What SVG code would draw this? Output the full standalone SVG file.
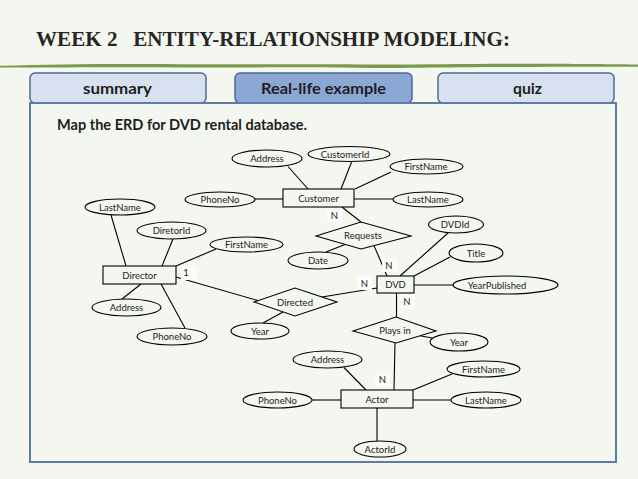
<svg xmlns="http://www.w3.org/2000/svg" width="638" height="479" viewBox="0 0 638 479">
<style>
.bg{fill:#f4f7ef}
.sh{fill:#f4f7ef;stroke:#000;stroke-width:1.1}
.ln{stroke:#000;stroke-width:1.1;fill:none}
.t{font-family:Lato,"Open Sans",sans-serif;font-size:9.5px;fill:#222;text-anchor:middle}
.lb{fill:#fbfcf9}
.tab{stroke:#4b6b98;stroke-width:1.5}
.tt{font-family:Lato,"Open Sans",sans-serif;font-weight:bold;font-size:16px;fill:#1e1e1e;text-anchor:middle}
</style>
<rect class="bg" x="0" y="0" width="638" height="479"/>
<g id="header">
<text x="36" y="46" font-family="'Liberation Serif',serif" font-weight="bold" font-size="21" fill="#262626" xml:space="preserve" style="white-space:pre" textLength="474" lengthAdjust="spacingAndGlyphs">WEEK 2   ENTITY-RELATIONSHIP MODELING:</text>
<path d="M0,65.8 C60,63.8 120,63.6 200,64.2 C260,64.6 300,64 360,64.4 C420,64.8 470,63.4 540,63.8 C590,64 620,64.2 638,64.6 L638,66.8 C600,66.6 560,66.8 500,67 C440,67.2 400,68.4 360,67.8 C300,67 240,67.6 180,67.4 C110,67.2 50,67.6 0,67.6 Z" fill="#7b9a4c"/>
</g>
<g id="tabs">
<rect id="tab-summary" class="tab" x="30" y="73" width="176" height="30" rx="5" fill="#d7e1f0"/>
<rect id="tab-real" class="tab" x="235" y="73" width="177" height="30" rx="5" fill="#8ba8d5"/>
<rect id="tab-quiz" class="tab" x="438" y="73" width="176" height="30" rx="5" fill="#d7e1f0"/>
<text class="tt" x="117.5" y="94" textLength="69" lengthAdjust="spacingAndGlyphs">summary</text>
<text class="tt" x="323.5" y="94" textLength="125" lengthAdjust="spacingAndGlyphs">Real-life example</text>
<text class="tt" x="527.5" y="94" textLength="29" lengthAdjust="spacingAndGlyphs">quiz</text>
</g>
<g id="panel">
<rect x="30" y="103" width="586" height="359" fill="#f4f7ef" stroke="#5f7ba6" stroke-width="2"/>
<text x="57" y="130" font-family="Lato,'Open Sans',sans-serif" font-weight="bold" font-size="15" fill="#1e1e1e" textLength="250" lengthAdjust="spacingAndGlyphs">Map the ERD for DVD rental database.</text>
</g>
<g id="connectors">
<line class="ln" x1="288" y1="166.5" x2="308" y2="189"/>
<line class="ln" x1="352" y1="161" x2="341" y2="189"/>
<line class="ln" x1="391" y1="172" x2="355" y2="189"/>
<line class="ln" x1="354" y1="199" x2="393" y2="199"/>
<line class="ln" x1="255" y1="199" x2="283" y2="199"/>
<line class="ln" x1="342" y1="207" x2="361" y2="222"/>
<line class="ln" x1="326" y1="252" x2="345" y2="244.4"/>
<line class="ln" x1="374" y1="245.6" x2="387" y2="276"/>
<line class="ln" x1="448" y1="233" x2="400" y2="276"/>
<line class="ln" x1="450" y1="257" x2="414" y2="276"/>
<line class="ln" x1="414" y1="285" x2="453" y2="285"/>
<line class="ln" x1="396.5" y1="293" x2="396.5" y2="317"/>
<line class="ln" x1="420" y1="335.8" x2="432" y2="338"/>
<line class="ln" x1="395" y1="343" x2="394" y2="390"/>
<line class="ln" x1="322" y1="297" x2="377" y2="288"/>
<line class="ln" x1="176" y1="277" x2="258" y2="300.6"/>
<line class="ln" x1="263" y1="323" x2="283" y2="311.9"/>
<line class="ln" x1="111" y1="215" x2="126" y2="266"/>
<line class="ln" x1="173" y1="239" x2="162" y2="266"/>
<line class="ln" x1="216" y1="249" x2="176" y2="266"/>
<line class="ln" x1="141" y1="284" x2="122" y2="299"/>
<line class="ln" x1="161" y1="284" x2="185" y2="328"/>
<line class="ln" x1="344" y1="367.5" x2="366" y2="390"/>
<line class="ln" x1="413" y1="390" x2="452" y2="374"/>
<line class="ln" x1="413" y1="400" x2="451" y2="400"/>
<line class="ln" x1="312" y1="400" x2="341" y2="400"/>
<line class="ln" x1="377" y1="408" x2="377" y2="441"/>
<rect class="lb" x="327" y="208" width="15" height="14"/>
<text class="t" x="334.5" y="219">N</text>
<rect class="lb" x="382" y="258" width="15" height="14"/>
<text class="t" x="389" y="268.5">N</text>
<rect class="lb" x="357" y="276" width="15" height="14"/>
<text class="t" x="364.5" y="286.5">N</text>
<rect class="lb" x="400" y="294" width="15" height="14"/>
<text class="t" x="407" y="304.5">N</text>
<rect class="lb" x="375" y="373" width="15" height="13"/>
<text class="t" x="382.5" y="383">N</text>
<rect class="lb" x="181" y="266" width="16" height="14"/>
<text class="t" x="186" y="276">1</text>
</g>
<g id="customer"><rect class="sh" x="283" y="189" width="71" height="18"/><text class="t" x="318.5" y="201.5">Customer</text></g>
<g id="dvd"><rect class="sh" x="377" y="276" width="37" height="17"/><text class="t" x="395.5" y="288">DVD</text></g>
<g id="director"><rect class="sh" x="103" y="266" width="73" height="18"/><text class="t" x="139.5" y="278.5">Director</text></g>
<g id="actor"><rect class="sh" x="341" y="390" width="72" height="18"/><text class="t" x="377" y="402.5">Actor</text></g>
<g id="requests"><polygon class="sh" points="316,236 361,222 411,236 361,249"/><text class="t" x="363" y="239">Requests</text></g>
<g id="directed"><polygon class="sh" points="254,302 295,288 337,302 295,316"/><text class="t" x="295" y="305.5">Directed</text></g>
<g id="playsin"><polygon class="sh" points="353,331 396,317 436,331 396,343"/><text class="t" x="395" y="333.5">Plays in</text></g>
<g id="cust-address"><ellipse class="sh" cx="267" cy="158.5" rx="35" ry="8.5"/><text class="t" x="267" y="162">Address</text></g>
<g id="cust-id"><ellipse class="sh" cx="349" cy="154" rx="41" ry="7.5"/><text class="t" x="345" y="157.5">CustomerId</text></g>
<g id="cust-first"><ellipse class="sh" cx="426.5" cy="166.5" rx="36.5" ry="7.5"/><text class="t" x="426" y="170">FirstName</text></g>
<g id="cust-last"><ellipse class="sh" cx="428" cy="199.5" rx="35" ry="7.5"/><text class="t" x="428" y="203">LastName</text></g>
<g id="cust-phone"><ellipse class="sh" cx="220" cy="199.5" rx="35" ry="7.5"/><text class="t" x="220" y="203">PhoneNo</text></g>
<g id="req-date"><ellipse class="sh" cx="318" cy="260.5" rx="30" ry="8.5"/><text class="t" x="318" y="264">Date</text></g>
<g id="dvd-id"><ellipse class="sh" cx="456" cy="224.5" rx="27.5" ry="8.5"/><text class="t" x="455" y="228">DVDId</text></g>
<g id="dvd-title"><ellipse class="sh" cx="476" cy="253" rx="27" ry="9"/><text class="t" x="476" y="256.5">Title</text></g>
<g id="dvd-year"><ellipse class="sh" cx="505.5" cy="285" rx="52.5" ry="9"/><text class="t" x="497" y="288.5">YearPublished</text></g>
<g id="dir-last"><ellipse class="sh" cx="120" cy="207" rx="35" ry="8"/><text class="t" x="120" y="210.5">LastName</text></g>
<g id="dir-id"><ellipse class="sh" cx="171.5" cy="230.5" rx="34.5" ry="8.5"/><text class="t" x="171.5" y="234">DiretorId</text></g>
<g id="dir-first"><ellipse class="sh" cx="246.5" cy="244.5" rx="36.5" ry="7.5"/><text class="t" x="246.5" y="248">FirstName</text></g>
<g id="dir-address"><ellipse class="sh" cx="126.5" cy="307.5" rx="34.5" ry="8.5"/><text class="t" x="126.5" y="311">Address</text></g>
<g id="dir-phone"><ellipse class="sh" cx="172" cy="336.5" rx="35" ry="8.5"/><text class="t" x="172" y="340">PhoneNo</text></g>
<g id="directed-year"><ellipse class="sh" cx="260" cy="331" rx="29" ry="8"/><text class="t" x="260" y="334.5">Year</text></g>
<g id="plays-year"><ellipse class="sh" cx="459" cy="342" rx="29" ry="9"/><text class="t" x="459" y="345.5">Year</text></g>
<g id="actor-address"><ellipse class="sh" cx="327.5" cy="359.5" rx="34.5" ry="8.5"/><text class="t" x="327.5" y="363">Address</text></g>
<g id="actor-first"><ellipse class="sh" cx="483.5" cy="369" rx="36.5" ry="8"/><text class="t" x="483.5" y="372.5">FirstName</text></g>
<g id="actor-last"><ellipse class="sh" cx="486" cy="400" rx="35" ry="8"/><text class="t" x="486" y="403.5">LastName</text></g>
<g id="actor-phone"><ellipse class="sh" cx="277.5" cy="400" rx="34.5" ry="8"/><text class="t" x="277.5" y="403.5">PhoneNo</text></g>
<g id="actor-id"><ellipse class="sh" cx="380" cy="449" rx="26" ry="8"/><text class="t" x="380" y="452.5">ActorId</text></g>
</svg>
